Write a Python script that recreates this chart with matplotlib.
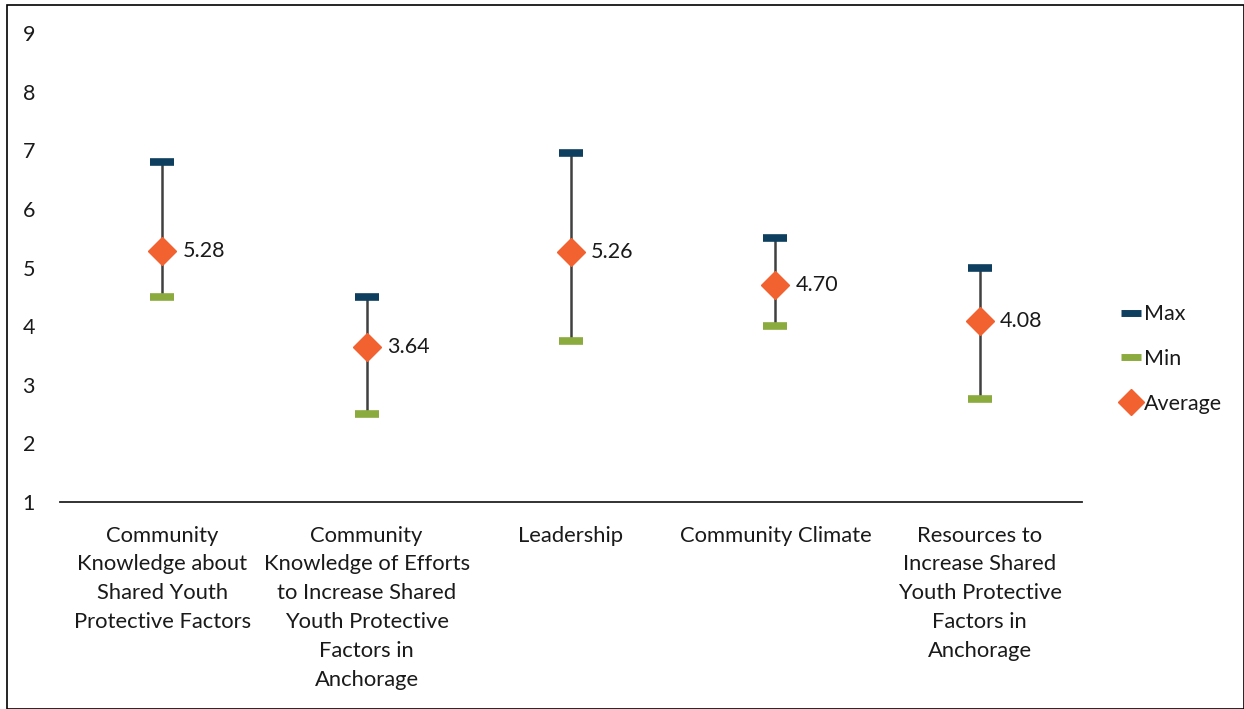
import matplotlib
matplotlib.use("Agg")
import matplotlib.pyplot as plt
from matplotlib.lines import Line2D
from matplotlib.patches import Rectangle

plt.rcParams['font.family'] = ['Lato', 'DejaVu Sans']

categories = [
    "Community\nKnowledge about\nShared Youth\nProtective Factors",
    "Community\nKnowledge of Efforts\nto Increase Shared\nYouth Protective\nFactors in\nAnchorage",
    "Leadership",
    "Community Climate",
    "Resources to\nIncrease Shared\nYouth Protective\nFactors in\nAnchorage",
]
max_vals = [6.8, 4.5, 6.95, 5.5, 5.0]
min_vals = [4.5, 2.5, 3.75, 4.0, 2.75]
avg_vals = [5.28, 3.64, 5.26, 4.70, 4.08]
yticks = [1, 2, 3, 4, 5, 6, 7, 8, 9]

MAX_C = "#0E3F5E"
MIN_C = "#8CAB3E"
AVG_C = "#F26130"
LINE_C = "#404040"
TXT = "#1a1a1a"

fig = plt.figure(figsize=(12.44, 7.09), dpi=100)
ax = fig.add_axes([60/1244, 1 - 502/709, (1082-60)/1244, (502-33)/709])

x = list(range(len(categories)))
for xi, lo, hi in zip(x, min_vals, max_vals):
    ax.plot([xi, xi], [lo, hi], color=LINE_C, lw=1.8, zorder=1)

ax.plot(x, max_vals, linestyle='none', marker='_', markersize=17, markeredgewidth=5.5,
        color=MAX_C, zorder=2, label="Max")
ax.plot(x, min_vals, linestyle='none', marker='_', markersize=17, markeredgewidth=5.5,
        color=MIN_C, zorder=2, label="Min")
ax.plot(x, avg_vals, linestyle='none', marker='D', markersize=14,
        color=AVG_C, markeredgecolor=AVG_C, zorder=3, label="Average")

for xi, v in zip(x, avg_vals):
    ax.annotate(f"{v:.2f}", (xi, v), xytext=(14.5, 0), textcoords='offset points',
                va='center', ha='left', fontsize=15.5, color=TXT)

ax.set_xlim(-0.5, len(categories) - 0.5)
ax.set_ylim(1, 9)
ax.set_yticks(yticks)
ax.set_yticklabels([str(t) for t in yticks], fontsize=15.5, color=TXT)
ax.set_xticks(x)
ax.set_xticklabels(categories, fontsize=15.8, color=TXT, linespacing=1.55, va='top')
ax.tick_params(axis='both', length=0)
ax.tick_params(axis='y', pad=18)
ax.tick_params(axis='x', pad=17)
for s in ['top', 'right', 'left']:
    ax.spines[s].set_visible(False)
ax.spines['bottom'].set_color('#222222')
ax.spines['bottom'].set_linewidth(1.3)

handles = [
    Line2D([], [], linestyle='none', marker='_', markersize=14, markeredgewidth=5, color=MAX_C),
    Line2D([], [], linestyle='none', marker='_', markersize=14, markeredgewidth=5, color=MIN_C),
    Line2D([], [], linestyle='none', marker='D', markersize=13, color=AVG_C),
]
leg = fig.legend(handles, ["Max", "Min", "Average"], loc='center left',
                 bbox_to_anchor=(1102/1244, 1 - 359/709), frameon=False,
                 fontsize=15.5, handlelength=0.9, handletextpad=0.15, labelspacing=1.15,
                 labelcolor=TXT)

fig.patches.append(Rectangle((7/1244, 0), 1 - 7/1244, 1 - 5/709, transform=fig.transFigure,
                             fill=False, edgecolor='black', linewidth=1.2))

fig.savefig("out.png", dpi=100)
